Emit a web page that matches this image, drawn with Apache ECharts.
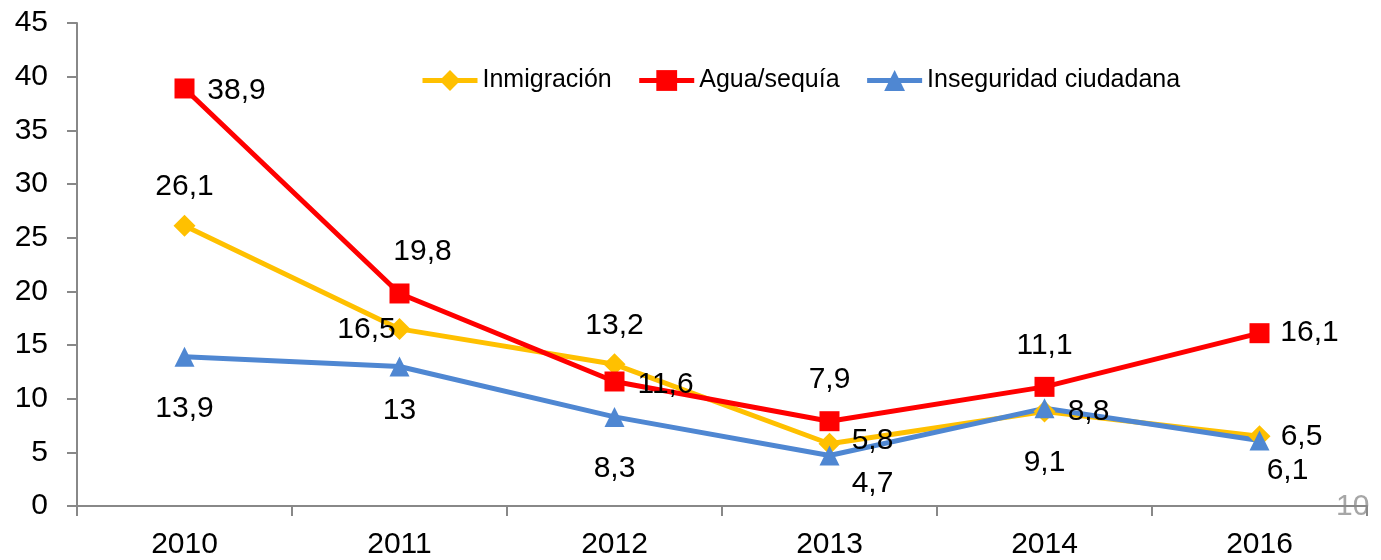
<!DOCTYPE html>
<html>
<head>
<meta charset="utf-8">
<script src="https://cdn.jsdelivr.net/npm/echarts@6/dist/echarts.min.js"></script>
<style>
  html, body { margin: 0; padding: 0; background: #fff; }
  #chart { width: 1381px; height: 560px; }
</style>
</head>
<body>
<div id="chart"></div>
<script>
// datos
var years = ['2010', '2011', '2012', '2013', '2014', '2016'];
var inmigracion = [26.1, 16.5, 13.2, 5.8, 8.8, 6.5];
var agua = [38.9, 19.8, 11.6, 7.9, 11.1, 16.1];
var inseguridad = [13.9, 13, 8.3, 4.7, 9.1, 6.1];

// desplazamiento de cada etiqueta respecto al punto
var offInmig = [[0, -39], [-33, 1], [0, -39], [43, -3], [44, 0], [42, 1]];
var offAgua = [[52, 2], [23, -42], [51, 3], [0, -41], [0, -41], [50, 0]];
var offInseg = [[0, 52], [0, 44], [0, 52], [43, 28], [0, 54], [28, 30]];

var font = 'Liberation Sans, Arial, sans-serif';

function buildData(values, offsets) {
  var out = [];
  for (var i = 0; i < values.length; i++) {
    out.push({
      value: values[i],
      label: { offset: offsets[i] }
    });
  }
  return out;
}

function makeSeries(name, values, offsets, color, symbol, size) {
  return {
    name: name,
    type: 'line',
    data: buildData(values, offsets),
    symbol: symbol,
    symbolSize: size,
    itemStyle: { color: color },
    lineStyle: { color: color, width: 5 },
    label: {
      show: true,
      position: 'inside',
      color: '#000',
      fontSize: 30,
      fontFamily: font,
      formatter: function (p) {
        return String(p.value).replace('.', ',');
      }
    },
    animation: false
  };
}

var myChart = echarts.init(document.getElementById('chart'));
var option = {
  backgroundColor: '#fff',
  grid: { left: 77, right: 14, top: 23, bottom: 53 },
  legend: {
    top: 63,
    left: 415,
    itemWidth: 55,
    itemHeight: 26,
    itemGap: 25,
    lineStyle: { width: 5 },
    textStyle: { fontSize: 25, fontFamily: font, color: '#000' },
    data: ['Inmigración', 'Agua/sequía', 'Inseguridad ciudadana']
  },
  xAxis: {
    type: 'category',
    data: years,
    boundaryGap: true,
    axisLine: { lineStyle: { color: '#888', width: 2 } },
    axisTick: { show: true, length: 10, lineStyle: { color: '#888', width: 2 } },
    axisLabel: { fontSize: 30, fontFamily: font, color: '#000', margin: 24 }
  },
  yAxis: {
    type: 'value',
    min: 0,
    max: 45,
    interval: 5,
    splitLine: { show: false },
    axisLine: { show: true, lineStyle: { color: '#888', width: 2 } },
    axisTick: { show: true, length: 10, lineStyle: { color: '#888', width: 2 } },
    axisLabel: { fontSize: 30, fontFamily: font, color: '#000', margin: 29 }
  },
  graphic: [{
    type: 'text',
    left: 1336,
    top: 492,
    style: { text: '10', fontSize: 30, fontFamily: font, fill: '#a6a6a6' }
  }],
  series: [
    makeSeries('Inmigración', inmigracion, offInmig, '#FFC000', 'diamond', 22),
    makeSeries('Agua/sequía', agua, offAgua, '#FF0000', 'rect', 20),
    makeSeries('Inseguridad ciudadana', inseguridad, offInseg, '#4F87D2', 'triangle', 20)
  ]
};
myChart.setOption(option);
</script>
</body>
</html>
